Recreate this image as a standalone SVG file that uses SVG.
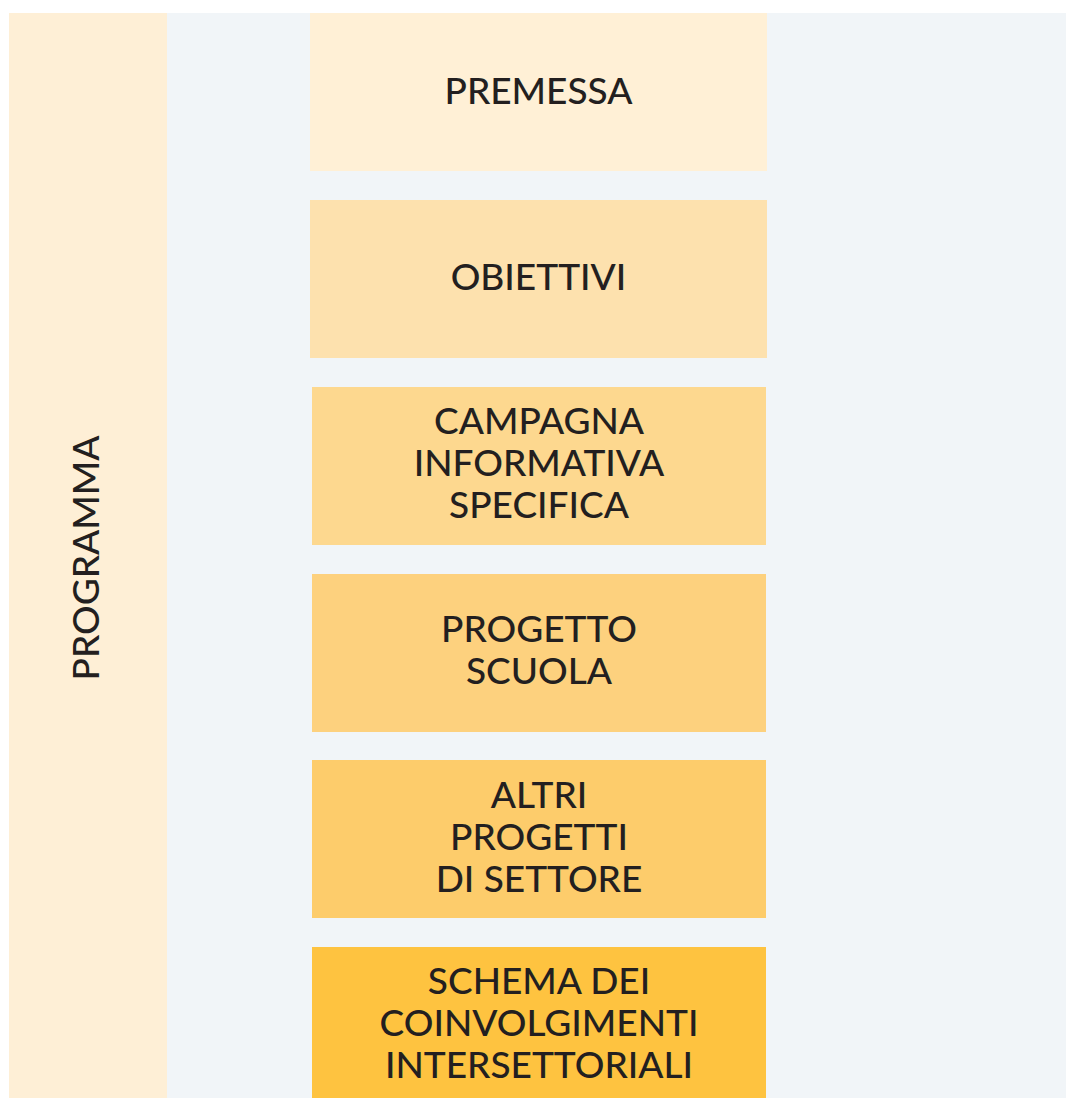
<svg xmlns="http://www.w3.org/2000/svg" width="1066" height="1098" viewBox="0 0 1066 1098">
<style>
.t{font-family:"Lato","Liberation Sans",sans-serif;font-size:37px;font-weight:500;fill:#231f20;text-anchor:middle}
</style>
<rect x="0" y="0" width="1066" height="1098" fill="#ffffff"/>
<rect x="9" y="13" width="1057" height="1085" fill="#f1f5f8"/>
<g id="programma">
<rect x="9" y="13" width="158" height="1085" fill="#feefd6"/>
<text class="t" transform="translate(99,558) rotate(-90)">PROGRAMMA</text>
</g>
<g id="premessa">
<rect x="310" y="13" width="457" height="158" fill="#fff0d6"/>
<text class="t" x="538.5" y="104">PREMESSA</text>
</g>
<g id="obiettivi">
<rect x="310" y="200" width="457" height="158" fill="#fde1ae"/>
<text class="t" x="538.5" y="290">OBIETTIVI</text>
</g>
<g id="campagna">
<rect x="312" y="387" width="454" height="158" fill="#fdd88f"/>
<text class="t" x="539" y="434">CAMPAGNA</text>
<text class="t" x="539" y="476">INFORMATIVA</text>
<text class="t" x="539" y="518">SPECIFICA</text>
</g>
<g id="progetto">
<rect x="312" y="574" width="454" height="158" fill="#fdd17e"/>
<text class="t" x="539" y="642">PROGETTO</text>
<text class="t" x="539" y="684">SCUOLA</text>
</g>
<g id="altri">
<rect x="312" y="760" width="454" height="158" fill="#fdcc6b"/>
<text class="t" x="539" y="808">ALTRI</text>
<text class="t" x="539" y="850">PROGETTI</text>
<text class="t" x="539" y="892">DI SETTORE</text>
</g>
<g id="schema">
<rect x="312" y="947" width="454" height="151" fill="#fec340"/>
<text class="t" x="539" y="994">SCHEMA DEI</text>
<text class="t" x="539" y="1036">COINVOLGIMENTI</text>
<text class="t" x="539" y="1078">INTERSETTORIALI</text>
</g>
<g id="connectors"/>
</svg>
